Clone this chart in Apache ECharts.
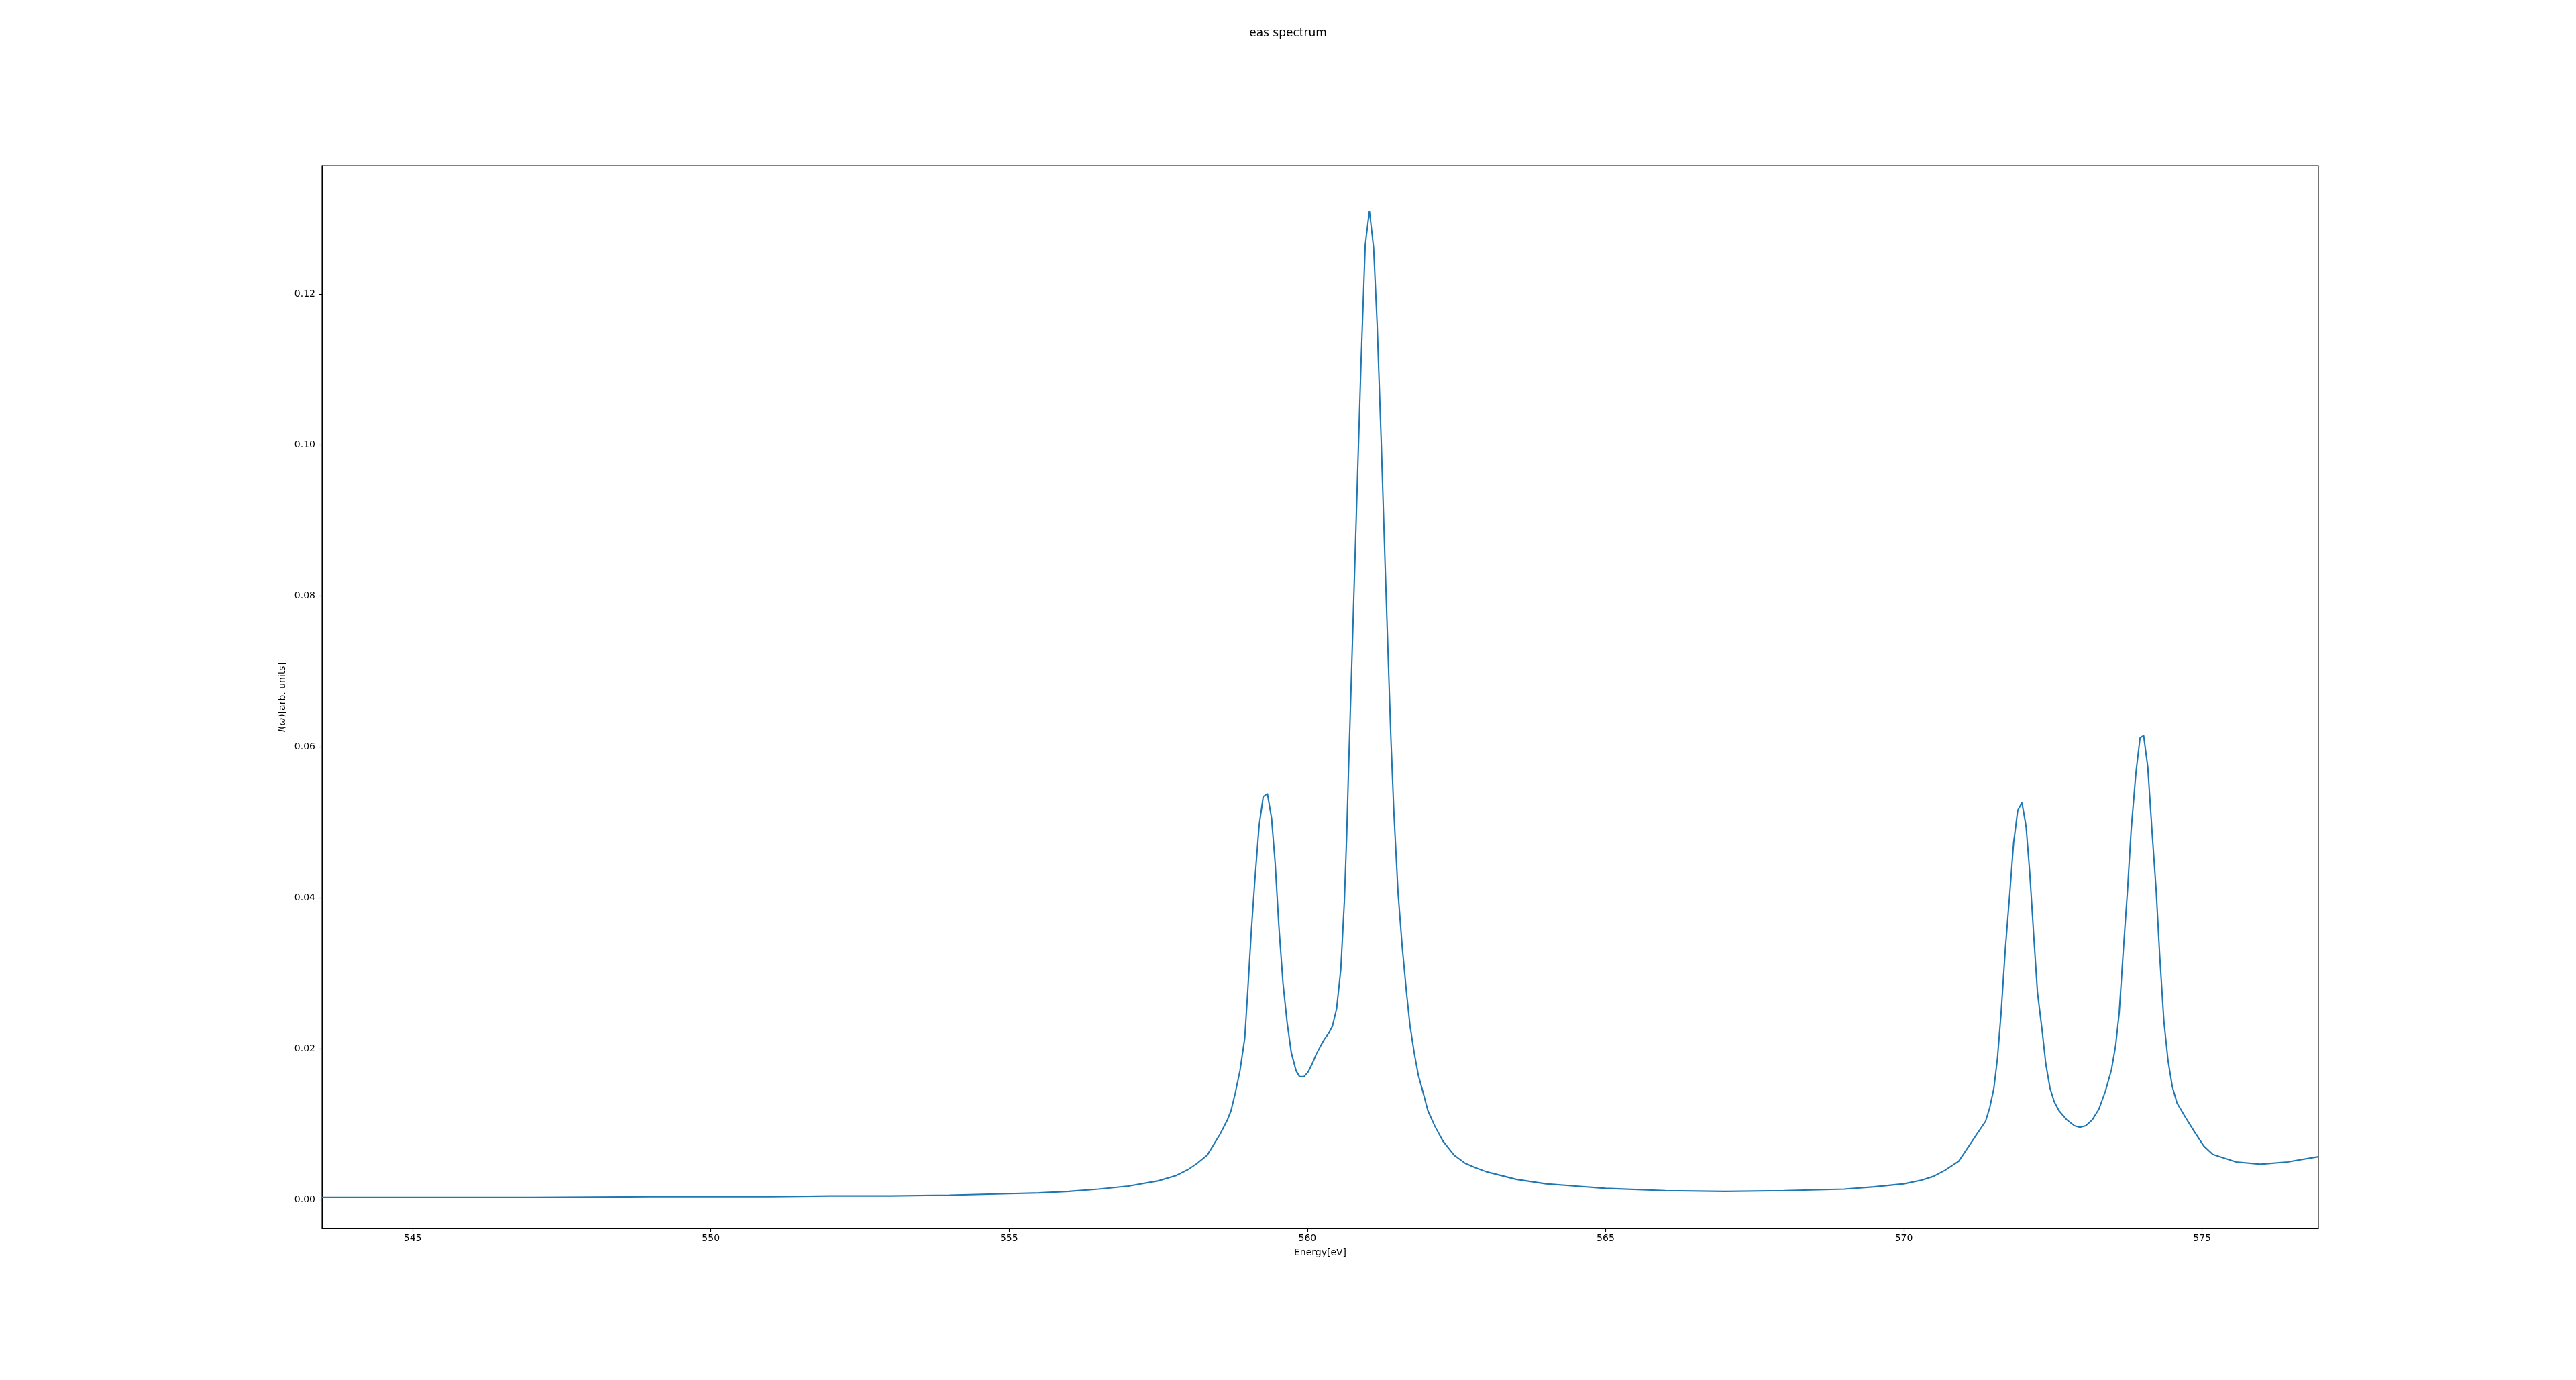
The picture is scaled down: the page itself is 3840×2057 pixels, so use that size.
<!DOCTYPE html>
<html>
<head>
<meta charset="utf-8">
<script src="https://cdn.jsdelivr.net/npm/echarts@6/dist/echarts.min.js"></script>
<style>
html,body{margin:0;padding:0;background:#fff;}
#chart{width:3840px;height:2057px;}
</style>
</head>
<body>
<div id="chart"></div>
<script>
// Energy values (eV)
var energy = [
  543.48, 545, 547, 549, 551, 552, 553, 554, 555, 555.5, 556, 556.5, 557, 557.5, 557.8, 558.0, 558.15, 558.32,
  558.53, 558.66, 558.72, 558.79, 558.87, 558.95, 559.0, 559.06, 559.12, 559.19, 559.26, 559.33, 559.40, 559.46,
  559.52, 559.59, 559.66, 559.73, 559.81, 559.87, 559.94, 560.01, 560.08, 560.15, 560.23, 560.28, 560.36, 560.42,
  560.49, 560.56, 560.62, 560.66, 560.69, 560.77, 560.84, 560.90, 560.97, 561.04, 561.11, 561.17, 561.24, 561.30,
  561.35, 561.40, 561.45, 561.52, 561.59, 561.66, 561.72, 561.79, 561.86, 561.94, 562.02, 562.14, 562.27, 562.46,
  562.65, 562.83, 563.0, 563.5, 564, 564.5, 565, 566, 567, 568, 569, 569.5, 570, 570.3, 570.5, 570.69, 570.92,
  571.14, 571.37, 571.44, 571.51, 571.57, 571.63, 571.70, 571.78, 571.84, 571.91, 571.98, 572.05, 572.11, 572.18,
  572.24, 572.32, 572.38, 572.45, 572.52, 572.60, 572.73, 572.86, 572.95, 573.05, 573.16, 573.27, 573.38, 573.48,
  573.55, 573.61, 573.68, 573.75, 573.81, 573.89, 573.96, 574.02, 574.09, 574.16, 574.23, 574.29, 574.36, 574.43,
  574.50, 574.58, 574.73, 574.88, 575.03, 575.18, 575.57, 575.98, 576.43, 576.95
];
// Intensity I(omega) (arb. units)
var intensity = [
  0.0003, 0.0003, 0.0003, 0.0004, 0.0004, 0.0005, 0.0005, 0.0006, 0.0008, 0.0009, 0.0011, 0.0014, 0.0018, 0.0025, 0.0032, 0.0040, 0.0048, 0.0059,
  0.0086, 0.0106, 0.0118, 0.0141, 0.0171, 0.0214, 0.0276, 0.0356, 0.0424, 0.0495, 0.0534, 0.0538, 0.0505, 0.0446,
  0.0365, 0.0288, 0.0235, 0.0195, 0.0171, 0.0163, 0.0163, 0.0169, 0.0180, 0.0193, 0.0205, 0.0212, 0.0221, 0.0230,
  0.0253, 0.0305, 0.0395, 0.0484, 0.0569, 0.0776, 0.0957, 0.1110, 0.1265, 0.1310, 0.1262, 0.1160, 0.1000, 0.0850,
  0.0730, 0.0612, 0.0514, 0.0407, 0.0335, 0.0276, 0.0231, 0.0195, 0.0165, 0.0142, 0.0118, 0.0097, 0.0078, 0.0059,
  0.0048, 0.0042, 0.0037, 0.0027, 0.0021, 0.0018, 0.0015, 0.0012, 0.0011, 0.0012, 0.0014, 0.0017, 0.0021, 0.0026, 0.0031, 0.0039, 0.0051,
  0.0077, 0.0104, 0.0122, 0.0148, 0.0188, 0.0247, 0.0331, 0.0410, 0.0473, 0.0516, 0.0526, 0.0494, 0.0434, 0.0347,
  0.0275, 0.0223, 0.0180, 0.0148, 0.0130, 0.0118, 0.0106, 0.0098, 0.0096, 0.0098, 0.0106, 0.0120, 0.0144, 0.0172,
  0.0204, 0.0247, 0.0331, 0.0410, 0.0489, 0.0565, 0.0612, 0.0615, 0.0573, 0.0489, 0.0410, 0.0323, 0.0236, 0.0184,
  0.0150, 0.0128, 0.0108, 0.0089, 0.0071, 0.0060, 0.0050, 0.0047, 0.0050, 0.0057
];
var xTicks = [545, 550, 555, 560, 565, 570, 575];
var yTicks = [0.00, 0.02, 0.04, 0.06, 0.08, 0.10, 0.12];

var points = energy.map(function (e, i) { return [e, intensity[i]]; });
var FONT = 'DejaVu Sans';

var chart = echarts.init(document.getElementById('chart'), null, {renderer: 'canvas'});
chart.setOption({
  animation: false,
  backgroundColor: '#ffffff',
  title: {
    text: 'eas spectrum',
    left: 'center',
    top: 36,
    textStyle: {fontFamily: FONT, fontSize: 17, fontWeight: 'normal', color: '#000'}
  },
  grid: {
    left: 480, right: 384, top: 247, bottom: 226,
    show: true, borderColor: '#000', borderWidth: 1.1, backgroundColor: 'transparent'
  },
  xAxis: {
    type: 'value',
    min: 543.48, max: 576.95,
    name: 'Energy[eV]',
    nameLocation: 'middle',
    nameGap: 29,
    nameTextStyle: {fontFamily: FONT, fontSize: 14, color: '#000'},
    axisLine: {show: true, onZero: false, lineStyle: {color: '#000', width: 1.1}},
    axisTick: {show: true, length: 5, lineStyle: {color: '#000', width: 1.1}, customValues: xTicks},
    axisLabel: {fontFamily: FONT, fontSize: 14, color: '#000', margin: 8, customValues: xTicks,
      formatter: function (v) { return String(Math.round(v)); }},
    splitLine: {show: false}
  },
  yAxis: {
    type: 'value',
    min: -0.0038, max: 0.137,
    name: '{i|I}({i|ω})[arb. units]',
    nameLocation: 'middle',
    nameRotate: 90,
    nameGap: 47,
    nameTextStyle: {fontFamily: FONT, fontSize: 14, color: '#000',
      rich: {i: {fontFamily: FONT, fontSize: 14, fontStyle: 'italic', color: '#000'}}},
    axisLine: {show: true, onZero: false, lineStyle: {color: '#000', width: 1.1}},
    axisTick: {show: true, length: 5, lineStyle: {color: '#000', width: 1.1}, customValues: yTicks},
    axisLabel: {fontFamily: FONT, fontSize: 14, color: '#000', margin: 10, customValues: yTicks,
      formatter: function (v) { return v.toFixed(2); }},
    splitLine: {show: false}
  },
  series: [{
    type: 'line',
    data: points,
    showSymbol: false,
    smooth: false,
    clip: true,
    lineStyle: {color: '#1f77b4', width: 2.1},
    itemStyle: {color: '#1f77b4'}
  }]
});
</script>
</body>
</html>
